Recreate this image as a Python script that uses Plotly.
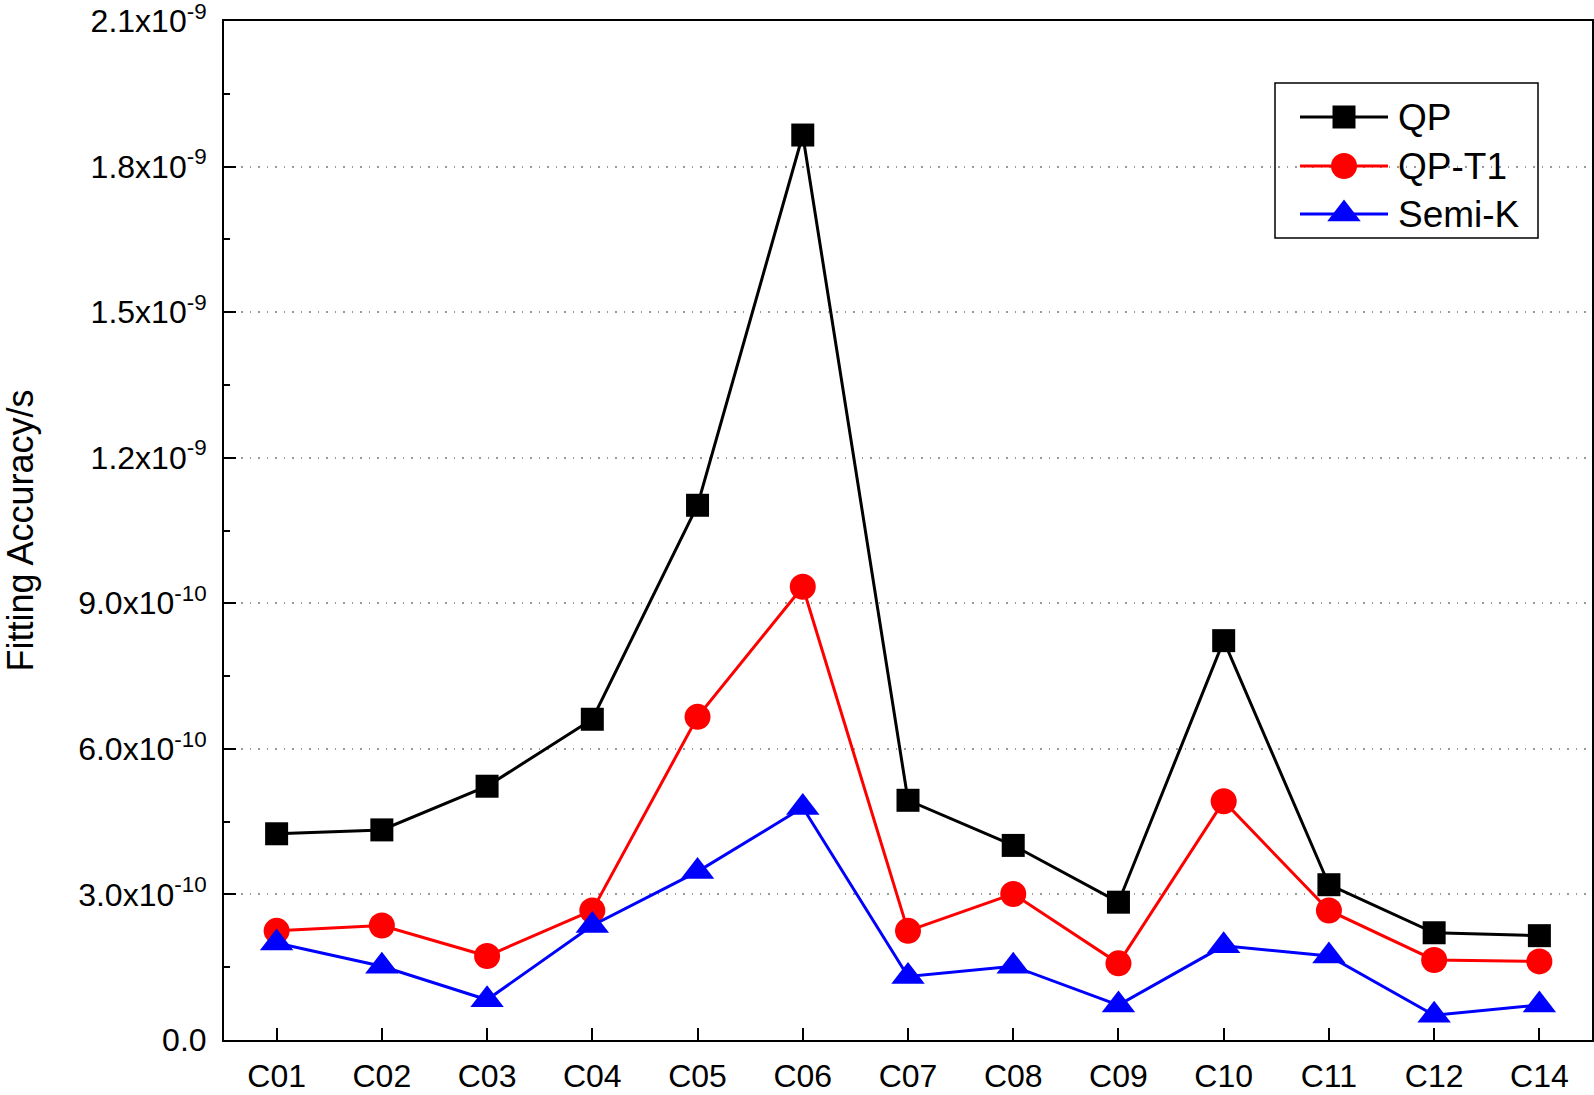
import plotly.graph_objects as go

categories = ["C01", "C02", "C03", "C04", "C05", "C06", "C07", "C08", "C09", "C10", "C11", "C12", "C14"]
qp = [4.25e-10, 4.33e-10, 5.23e-10, 6.61e-10, 1.102e-9, 1.865e-9, 4.94e-10, 4.01e-10, 2.84e-10, 8.23e-10, 3.20e-10, 2.21e-10, 2.15e-10]
qp_t1 = [2.25e-10, 2.36e-10, 1.73e-10, 2.67e-10, 6.66e-10, 9.34e-10, 2.25e-10, 3.01e-10, 1.58e-10, 4.92e-10, 2.67e-10, 1.65e-10, 1.62e-10]
semi_k = [2.00e-10, 1.52e-10, 0.83e-10, 2.36e-10, 3.47e-10, 4.79e-10, 1.31e-10, 1.52e-10, 0.72e-10, 1.94e-10, 1.73e-10, 0.51e-10, 0.72e-10]

y_tickvals = [0, 3e-10, 6e-10, 9e-10, 1.2e-9, 1.5e-9, 1.8e-9, 2.1e-9]
y_ticktext = ["0.0", "3.0x10<sup>-10</sup>", "6.0x10<sup>-10</sup>", "9.0x10<sup>-10</sup>",
              "1.2x10<sup>-9</sup>", "1.5x10<sup>-9</sup>", "1.8x10<sup>-9</sup>", "2.1x10<sup>-9</sup>"]
y_minor = [1.5e-10 + 3e-10 * k for k in range(7)]

series = [
    ("QP", qp, "#000000", "square", 23),
    ("QP-T1", qp_t1, "#ff0000", "circle", 26),
    ("Semi-K", semi_k, "#0000ff", "triangle-up", 29),
]

W, H = 1594, 1095
L, R, T, B = 224, 2, 21, 55
FONT = "Liberation Sans, Arial, sans-serif"
PW, PH = W - L - R, H - T - B


def px_x(v):
    return (v - L) / PW


fig = go.Figure()
for name, vals, color, sym, size in series:
    fig.add_trace(go.Scatter(
        x=categories, y=vals, mode="lines+markers", name=name,
        line=dict(color=color, width=3),
        marker=dict(symbol=sym, size=size, color=color, line=dict(width=0)),
        showlegend=False, cliponaxis=False,
    ))

# Custom legend in pixel coordinates (overlay axes)
leg_rows = [117, 166, 214]
for (name, vals, color, sym, size), yy in zip(series, leg_rows):
    fig.add_shape(type="line", xref="x2", yref="y2", x0=1300, x1=1388, y0=yy, y1=yy,
                  line=dict(color=color, width=3))
    fig.add_trace(go.Scatter(x=[1344], y=[yy], xaxis="x2", yaxis="y2", mode="markers",
                             marker=dict(symbol=sym, size=size, color=color),
                             showlegend=False, hoverinfo="skip", cliponaxis=False))
    fig.add_annotation(x=1396, y=yy, xref="x2", yref="y2", text=name, showarrow=False,
                       xanchor="left", yanchor="middle", font=dict(size=37, color="black", family=FONT))
fig.add_shape(type="rect", xref="x2", yref="y2", x0=1275, x1=1538, y0=83, y1=238,
              line=dict(color="black", width=1.5), fillcolor="rgba(0,0,0,0)")

fig.add_annotation(x=px_x(20), y=0.5, xref="paper", yref="paper", text="Fitting Accuracy/s",
                   textangle=-90, showarrow=False, xanchor="center", yanchor="middle",
                   font=dict(size=36, color="black", family=FONT))

fig.update_layout(
    width=W, height=H,
    margin=dict(l=L, r=R, t=T, b=B, autoexpand=False),
    paper_bgcolor="white", plot_bgcolor="white",
    font=dict(family=FONT, color="black"),
    xaxis=dict(
        type="category", range=[-0.5, len(categories) - 0.5],
        showline=True, linecolor="black", linewidth=2, mirror=True,
        ticks="inside", ticklen=12, tickwidth=1.5, tickcolor="black",
        tickfont=dict(size=32, family=FONT, color="black"),
        showgrid=False, zeroline=False, ticklabelstandoff=7,
    ),
    yaxis=dict(
        range=[0, 2.1e-9],
        tickmode="array", tickvals=y_tickvals, ticktext=y_ticktext,
        showline=True, linecolor="black", linewidth=2, mirror=True,
        ticks="inside", ticklen=12, tickwidth=1.5, tickcolor="black",
        tickfont=dict(size=32, family=FONT, color="black"),
        showgrid=True, gridcolor="#9a9a9a", gridwidth=1.5, griddash="1.5px,7px",
        zeroline=False, ticklabelstandoff=9, ticklabeloverflow="allow",
        minor=dict(tickmode="array", tickvals=y_minor, ticks="inside", ticklen=6,
                   tickwidth=1.5, tickcolor="black", showgrid=False),
    ),
    xaxis2=dict(overlaying="x", range=[L, W - R], visible=False, fixedrange=True),
    yaxis2=dict(overlaying="y", range=[H - B, T], visible=False, fixedrange=True),
)

fig.write_html("out.html", config={"displayModeBar": False},
               post_script="document.body.style.margin='0';document.body.style.overflow='hidden';")
